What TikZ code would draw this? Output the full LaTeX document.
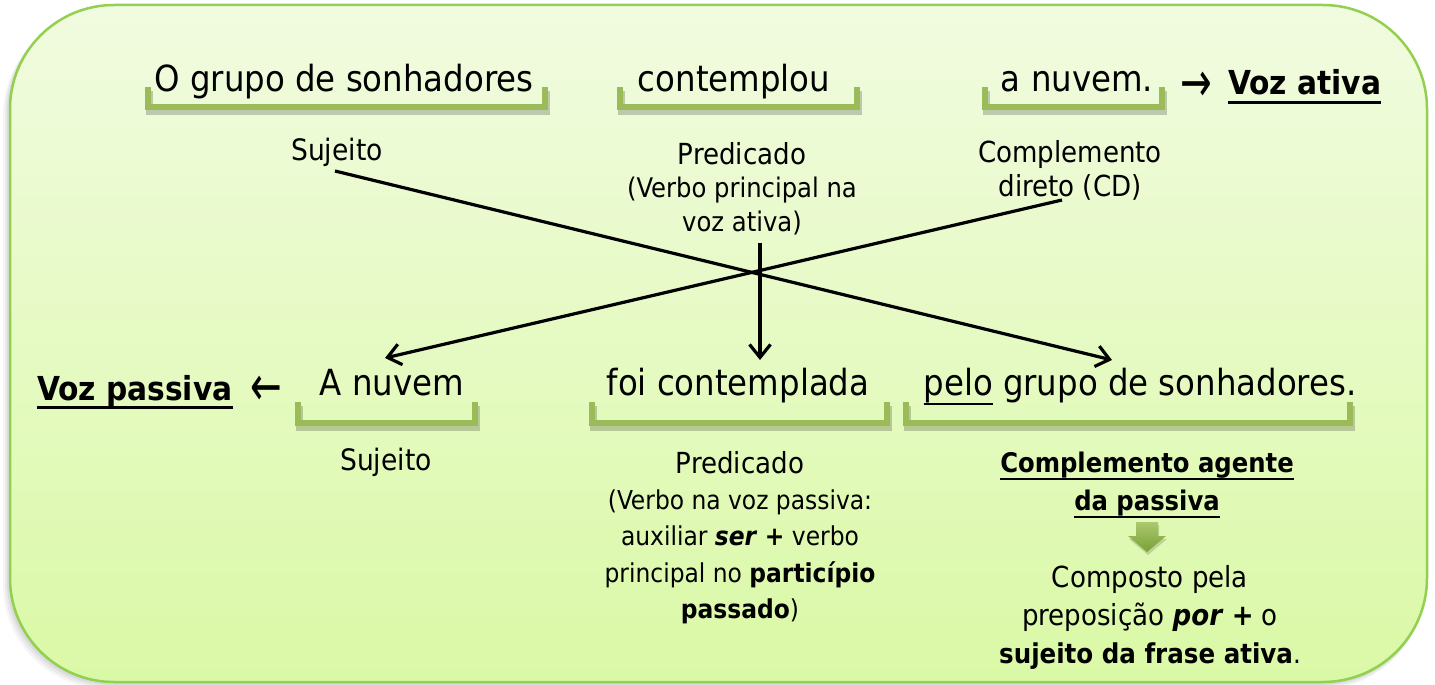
\documentclass[tikz,border=0pt]{standalone}
\usepackage{graphicx}
\usepackage{fontspec}
\setmainfont{DejaVu Sans Condensed}[BoldFont={DejaVu Sans Condensed Bold},ItalicFont={DejaVu Sans Condensed Oblique},BoldItalicFont={DejaVu Sans Condensed Bold Oblique}]
\newfontfamily\arrfont{DejaVu Sans}
\usetikzlibrary{arrows.meta}
\newsavebox\ulbox
\newcommand\myul[2][0.08em]{\sbox\ulbox{#2}\rlap{\rule[-0.27em]{\wd\ulbox}{#1}}\usebox\ulbox}
\newcommand\lblsize[1]{\fontsize{#1}{#1}\selectfont}
\definecolor{bgtop}{RGB}{241,251,224}
\definecolor{bgbot}{RGB}{218,249,166}
\definecolor{bordergreen}{RGB}{146,208,80}
\definecolor{brkgreen}{RGB}{155,187,89}
\definecolor{arrtop}{RGB}{172,200,110}
\definecolor{arrbot}{RGB}{120,160,55}
\tikzset{
  big/.style={font=\fontsize{36}{43}\selectfont, inner sep=0pt, anchor=base},
  bigb/.style={font=\fontsize{33}{40}\selectfont\bfseries, inner sep=0pt, anchor=base west},
  lbl/.style={font=\fontsize{27}{33}\selectfont, inner sep=0pt, align=center},
  arrsym/.style={font=\arrfont\fontsize{36}{40}\selectfont, inner sep=0pt, anchor=center},
  brk/.style={draw=brkgreen, line width=6pt, line cap=butt, line join=miter},
  brkshadow/.style={draw=black, opacity=0.2, line width=7pt, line cap=butt},
  conn/.style={draw=black, line width=3.2pt, -{Straight Barb[length=13pt,width=21pt,line width=3.2pt]}}
}
\begin{document}
\begin{tikzpicture}[x=1pt,y=-1pt]
\useasboundingbox (0,0) rectangle (1435,685);
% background shadow
\foreach \i/\o in {1/0.07,3/0.06,5/0.05,7/0.04}{
  \fill[black, opacity=\o, rounded corners=104pt] (10-\i,5+\i) rectangle (1427-\i*0.3,682+\i);
}
\shade[top color=bgtop, bottom color=bgbot, rounded corners=104pt] (10,5) rectangle (1427,682);
\draw[bordergreen, line width=2.5pt, rounded corners=104pt] (10,5) rectangle (1427,682);

% top row
\node[big] (t1) at (344,92) {O grupo de sonhadores};
\node[big] (t2) at (734,92) {contemplou};
\node[big] (t3) at (1077,92) {a nuvem.};
\node[arrsym] (ra) at (1196,87) {\scalebox{1.05}[1.55]{→}};
\node[bigb] (va) at (1228,95) {\myul{Voz ativa}};

\foreach \a/\b in {148/545,620/857,985/1162}{
  \draw[brkshadow] (\a+1,91) |- (\b+1,111) -- (\b+1,91);
  \draw[brk] (\a,87) |- (\b,107) -- (\b,87);
}

\node[lbl, anchor=base, font=\lblsize{29.5}] (s1) at (337,160) {Sujeito};
\node[lbl, anchor=north, font=\fontsize{27}{33.5}\selectfont] (p1) at (742,142) {{\lblsize{29}Predicado}\\(Verbo principal na\\voz ativa)};
\node[lbl, anchor=north, font=\fontsize{29}{34}\selectfont] (c1) at (1070,140) {Complemento\\direto (CD)};

% bottom row
\node[bigb] (vp) at (37,400) {\myul{Voz passiva}};
\node[arrsym] (la) at (266,391) {\scalebox{1.05}[1.55]{←}};
\node[big] (a1) at (392,395) {A nuvem};
\node[big] (f1) at (738,395) {foi contemplada};
\node[big] (pe) at (1140,395) {\myul[0.06em]{pelo} grupo de sonhadores.};

\foreach \a/\b in {298/475,592/887,906/1350}{
  \draw[brkshadow] (\a+1,406) |- (\b+1,427) -- (\b+1,406);
  \draw[brk] (\a,402) |- (\b,423) -- (\b,402);
}

\node[lbl, anchor=base, font=\lblsize{29.5}] (s2) at (386,470) {Sujeito};
\node[lbl, anchor=north, font=\fontsize{26}{36.3}\selectfont] (p2) at (740,451) {{\lblsize{29}Predicado}\\(Verbo na voz passiva:\\auxiliar \textbf{\textit{ser}} \textbf{+} verbo\\principal no \textbf{particípio}\\\textbf{passado})};
\node[lbl, anchor=north, font=\fontsize{27}{38}\selectfont\bfseries] (ca) at (1147,452) {\myul[0.09em]{Complemento agente}\\\myul[0.09em]{da passiva}};
\node[lbl, anchor=north, font=\fontsize{29}{38}\selectfont] (cp) at (1150,565) {Composto pela\\preposição \textbf{\textit{por}} \textbf{+} o\\{\fontsize{27.3}{38}\selectfont\textbf{sujeito da frase ativa}.}};

% green block arrow
\fill[black, opacity=0.15] (1137,525) -- (1159,525) -- (1159,539) -- (1167,539) -- (1148,555) -- (1129,539) -- (1137,539) -- cycle;
\shade[top color=arrtop, bottom color=arrbot] (1136,522) -- (1158,522) -- (1158,536) -- (1166,536) -- (1147,552) -- (1128,536) -- (1136,536) -- cycle;

% connectors
\coordinate (x1s) at (335,171);
\coordinate (x1e) at (1112,360);
\coordinate (x2s) at (1062,200);
\coordinate (x2e) at (385,358);
\coordinate (x3s) at (760,243);
\coordinate (x3e) at (760,360);
\draw[conn] (x1s) -- (x1e);
\draw[conn] (x2s) -- (x2e);
\draw[conn] (x3s) -- (x3e);
\end{tikzpicture}
\end{document}
